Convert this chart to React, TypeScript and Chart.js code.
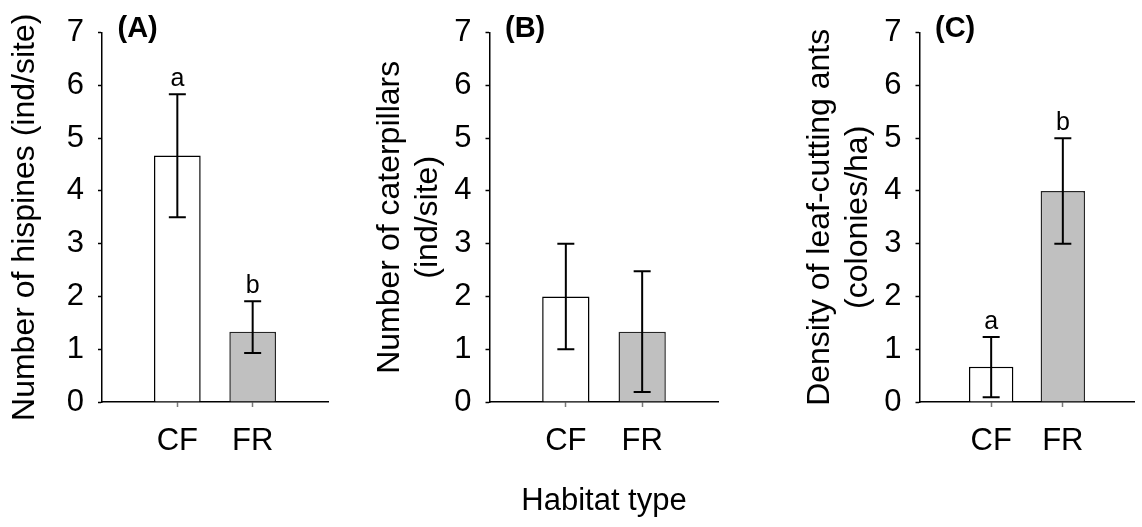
import React, { useEffect, useRef } from 'react';
import { Chart, registerables } from 'chart.js';

Chart.register(...registerables);

// ---------- data ----------
const categories = ['CF', 'FR'];
const yTickValues = [0, 1, 2, 3, 4, 5, 6, 7];

const hispinesMean = [4.67, 1.33];
const hispinesLow = [3.5, 0.93];
const hispinesHigh = [5.83, 1.91];
const hispinesLetters = ['a', 'b'];

const caterpillarsMean = [2.0, 1.33];
const caterpillarsLow = [1.0, 0.19];
const caterpillarsHigh = [3.0, 2.48];
const caterpillarsLetters: string[] = [];

const antsMean = [0.67, 4.0];
const antsLow = [0.09, 3.0];
const antsHigh = [1.23, 5.0];
const antsLetters = ['a', 'b'];

const FONT = '"Liberation Sans", Arial, Helvetica, sans-serif';
const CF_FILL = '#ffffff';
const FR_FILL = '#c0c0c0';

type Panel = {
  key: string;
  left: number;
  width: number;
  yAxisWidth: number;
  padRight: number;
  title: string | string[];
  titlePad: number;
  label: string;
  means: number[];
  lows: number[];
  highs: number[];
  letters: string[];
  xTitle: string | null;
};

const panels: Panel[] = [
  {
    key: 'A', left: 0, width: 380, yAxisWidth: 102, padRight: 52,
    title: 'Number of hispines (ind/site)', titlePad: 5.6,
    label: '(A)', means: hispinesMean, lows: hispinesLow, highs: hispinesHigh,
    letters: hispinesLetters, xTitle: null,
  },
  {
    key: 'B', left: 370, width: 380, yAxisWidth: 119.5, padRight: 31.5,
    title: ['Number of caterpillars', '(ind/site)'], titlePad: 0.8,
    label: '(B)', means: caterpillarsMean, lows: caterpillarsLow, highs: caterpillarsHigh,
    letters: caterpillarsLetters, xTitle: 'Habitat type',
  },
  {
    key: 'C', left: 790, width: 360, yAxisWidth: 129.5, padRight: 4,
    title: ['Density of leaf-cutting ants', '(colonies/ha)'], titlePad: 10.5,
    label: '(C)', means: antsMean, lows: antsLow, highs: antsHigh,
    letters: antsLetters, xTitle: null,
  },
];

const CANVAS_H = 527;

function makeOverlay(p: Panel) {
  return {
    id: 'errorBars' + p.key,
    afterDatasetsDraw(chart: any) {
      const meta = chart.getDatasetMeta(0);
      const yScale = chart.scales.y;
      const ctx = chart.ctx as CanvasRenderingContext2D;
      ctx.save();
      ctx.strokeStyle = '#000';
      ctx.lineWidth = 2;
      p.lows.forEach((lo, i) => {
        const el = meta.data[i + 1];
        if (!el) return;
        const x = el.x;
        const yLo = yScale.getPixelForValue(lo);
        const yHi = yScale.getPixelForValue(p.highs[i]);
        ctx.beginPath();
        ctx.moveTo(x, yLo);
        ctx.lineTo(x, yHi);
        ctx.moveTo(x - 8.5, yLo);
        ctx.lineTo(x + 8.5, yLo);
        ctx.moveTo(x - 8.5, yHi);
        ctx.lineTo(x + 8.5, yHi);
        ctx.stroke();
        if (p.letters[i]) {
          ctx.fillStyle = '#000';
          ctx.font = `25px ${FONT}`;
          ctx.textAlign = 'center';
          ctx.textBaseline = 'alphabetic';
          ctx.fillText(p.letters[i], x, yHi - 8);
        }
      });
      ctx.fillStyle = '#000';
      ctx.font = `bold 29px ${FONT}`;
      ctx.textAlign = 'left';
      ctx.textBaseline = 'alphabetic';
      ctx.fillText(p.label, chart.chartArea.left + 15.5, 37);
      ctx.restore();
    },
  };
}

function PanelChart({ p }: { p: Panel }) {
  const ref = useRef<HTMLCanvasElement | null>(null);
  useEffect(() => {
    if (!ref.current) return;
    const labels = ['', ...categories, ''];
    const data = [null, ...p.means, null];
    const chart = new Chart(ref.current, {
      type: 'bar',
      data: {
        labels,
        datasets: [
          {
            data: data as any,
            backgroundColor: ['rgba(0,0,0,0)', CF_FILL, FR_FILL, 'rgba(0,0,0,0)'],
            borderColor: ['rgba(0,0,0,0)', '#000000', '#262626', 'rgba(0,0,0,0)'],
            borderWidth: 1.5,
            barPercentage: 0.62,
            categoryPercentage: 1,
          },
        ],
      },
      options: {
        animation: false,
        responsive: false,
        devicePixelRatio: 1,
        events: [],
        layout: { padding: { top: 23, right: p.padRight, left: 0, bottom: 0 } },
        plugins: {
          legend: { display: false },
          tooltip: { enabled: false },
        },
        scales: {
          x: {
            type: 'category',
            offset: false,
            grid: {
              display: true,
              offset: false,
              drawOnChartArea: false,
              drawTicks: true,
              tickLength: 5,
              tickWidth: 1.5,
              tickColor: (c: any) => (c.tick && c.tick.label ? '#7a7a7a' : 'rgba(0,0,0,0)'),
            },
            border: { display: true, color: '#000', width: 1.5 },
            ticks: {
              autoSkip: false,
              maxRotation: 0,
              minRotation: 0,
              padding: 15.5,
              color: '#000',
              font: { family: FONT, size: 31 },
            },
            title: p.xTitle
              ? {
                  display: true,
                  text: p.xTitle,
                  color: '#000',
                  font: { family: FONT, size: 31 },
                  padding: { top: 0, bottom: 7.4 },
                }
              : { display: false },
            afterFit: (s: any) => {
              s.height = 125;
            },
          },
          y: {
            min: 0,
            max: 7,
            afterBuildTicks: (s: any) => {
              s.ticks = yTickValues.map((v) => ({ value: v }));
            },
            ticks: {
              padding: 14,
              color: '#000',
              font: { family: FONT, size: 31 },
            },
            grid: {
              display: true,
              drawOnChartArea: false,
              drawTicks: true,
              tickLength: 4,
              tickWidth: 1.5,
              tickColor: '#000',
            },
            border: { display: true, color: '#000', width: 1.5 },
            title: {
              display: true,
              text: p.title,
              color: '#000',
              font: { family: FONT, size: 32 },
              padding: { top: p.titlePad, bottom: 0 },
            },
            afterFit: (s: any) => {
              s.width = p.yAxisWidth;
            },
          },
        },
      },
      plugins: [makeOverlay(p)],
    } as any);
    return () => chart.destroy();
  }, [p]);
  return (
    <canvas
      ref={ref}
      width={p.width}
      height={CANVAS_H}
      style={{ position: 'absolute', left: p.left, top: 0, width: p.width, height: CANVAS_H }}
    />
  );
}

export default function App() {
  return (
    <div
      style={{
        position: 'fixed',
        left: 0,
        top: 0,
        width: 1142,
        height: 527,
        overflow: 'hidden',
        background: '#ffffff',
      }}
    >
      {panels.map((p) => (
        <PanelChart key={p.key} p={p} />
      ))}
    </div>
  );
}
